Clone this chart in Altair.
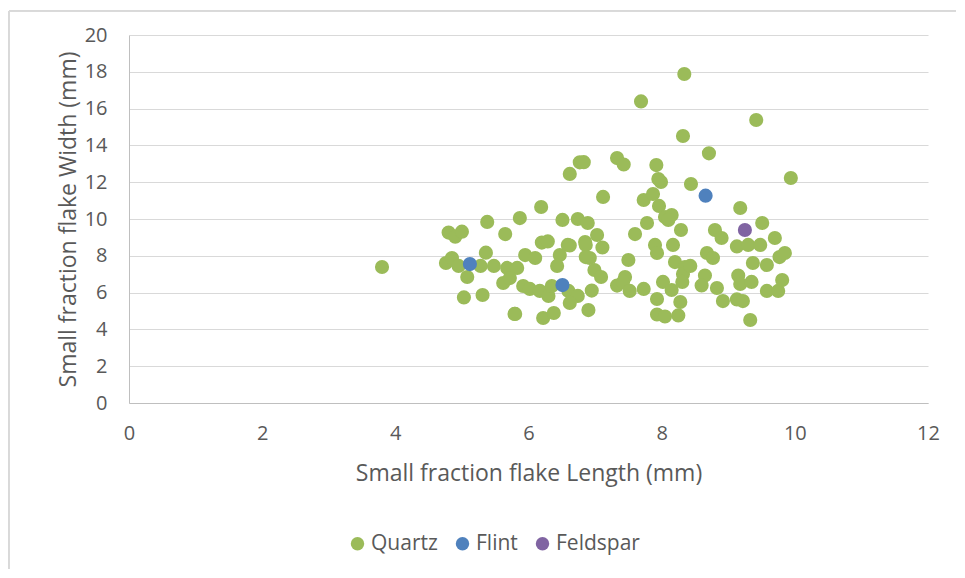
import altair as alt
import pandas as pd

# Values (mm)
quartz_length = [
    3.80, 4.80, 4.90, 5.00, 4.76, 4.85, 4.95, 5.08, 5.03, 5.28, 5.36, 5.38, 5.31, 5.48, 5.65,
    5.79, 5.68, 5.83, 5.62, 5.72, 5.87, 5.95, 6.10, 6.19, 6.20, 6.29, 6.47, 6.59, 6.43, 6.51,
    6.74, 6.89, 6.85, 6.92, 5.92, 6.02, 6.17, 6.30, 6.35, 6.60, 6.74, 6.62, 5.80, 6.22, 6.38,
    6.90, 6.62, 6.77, 6.86, 7.11, 6.86, 6.62, 7.03, 7.12, 7.50, 6.99, 7.09, 7.45, 7.33, 7.42,
    7.52, 7.73, 7.60, 7.78, 7.73, 7.87, 7.96, 7.99, 7.95, 8.05, 8.15, 8.10, 7.90, 7.93, 8.17,
    8.20, 8.35, 8.32, 8.02, 8.15, 8.31, 8.28, 7.93, 6.95, 7.93, 8.05, 8.25, 8.29, 8.44, 7.33,
    7.43, 6.83, 7.92, 7.69, 8.34, 8.32, 8.71, 9.42, 9.94, 9.18, 8.80, 8.90, 9.70, 9.13, 9.30,
    9.48, 8.68, 8.77, 9.37, 9.58, 9.77, 9.85, 8.43, 8.65, 8.60, 8.83, 9.15, 9.18, 9.35, 9.58,
    9.75, 9.81, 8.92, 9.13, 9.22, 9.33, 9.51,
]
quartz_width = [
    7.39, 9.26, 9.04, 9.31, 7.61, 7.88, 7.45, 6.85, 5.74, 7.45, 8.17, 9.84, 5.87, 7.45, 9.18,
    4.84, 7.34, 7.34, 6.52, 6.79, 10.05, 8.04, 7.88, 10.65, 8.72, 8.78, 8.04, 8.59, 7.45, 9.95,
    10.00, 9.78, 8.75, 7.88, 6.36, 6.20, 6.09, 5.82, 6.36, 6.09, 5.82, 5.44, 4.84, 4.62, 4.89,
    5.05, 12.45, 13.08, 8.59, 8.45, 7.93, 8.56, 9.13, 11.20, 7.77, 7.23, 6.85, 6.85, 6.38, 6.58,
    6.09, 6.20, 9.18, 9.78, 11.03, 11.36, 10.71, 12.01, 12.17, 10.11, 10.22, 9.95, 8.59, 8.15,
    8.59, 7.66, 7.39, 7.01, 6.58, 6.14, 6.58, 5.49, 5.65, 6.11, 4.81, 4.70, 4.76, 9.40, 11.90,
    13.31, 12.96, 13.09, 12.93, 16.39, 17.88, 14.51, 13.57, 15.38, 12.23, 10.60, 9.40, 8.97,
    8.97, 8.51, 8.59, 8.59, 8.15, 7.88, 7.61, 7.50, 7.93, 8.15, 7.45, 6.93, 6.39, 6.25, 6.93,
    6.47, 6.58, 6.09, 6.09, 6.68, 5.54, 5.63, 5.54, 4.51, 9.78,
]
flint_length = [5.12, 6.51, 8.66]
flint_width = [7.55, 6.41, 11.27]
feldspar_length = [9.25]
feldspar_width = [9.40]

series_names = ["Quartz", "Flint", "Feldspar"]
series_colors = ["#9BBB59", "#4F81BD", "#8064A2"]

n = min(len(quartz_length), len(quartz_width))
df = pd.concat([
    pd.DataFrame({"length": quartz_length[:n], "width": quartz_width[:n], "stone": "Quartz"}),
    pd.DataFrame({"length": flint_length, "width": flint_width, "stone": "Flint"}),
    pd.DataFrame({"length": feldspar_length, "width": feldspar_width, "stone": "Feldspar"}),
], ignore_index=True)

FONT = "Open Sans"
TXT = "#595959"

points = alt.Chart(df).mark_circle(size=200, opacity=1).encode(
    x=alt.X("length:Q", scale=alt.Scale(domain=[0, 12], nice=False),
            axis=alt.Axis(title="Small fraction flake Length (mm)", values=list(range(0, 13, 2)),
                          grid=False, ticks=False, domainColor="#BFBFBF", labelPadding=20,
                          labelFlush=False, titlePadding=19)),
    y=alt.Y("width:Q", scale=alt.Scale(domain=[0, 20], nice=False),
            axis=alt.Axis(title="Small fraction flake Width (mm)", values=list(range(0, 21, 2)),
                          grid=True, gridColor="#D9D9D9", ticks=False, domainColor="#BFBFBF",
                          labelPadding=22, labelFlush=False, titlePadding=4)),
    color=alt.Color("stone:N", scale=alt.Scale(domain=series_names, range=series_colors),
                    legend=alt.Legend(title=None, orient="none", direction="horizontal",
                                      legendX=218, legendY=498, symbolType="circle",
                                      symbolSize=180, labelFontSize=21, labelColor=TXT,
                                      labelFont=FONT, columnPadding=14, labelOffset=3,
                                      symbolOffset=0)),
    order=alt.Order("stone:N", sort="descending"),
)

frame = alt.Chart(df).mark_rect(fill=None, stroke="#D9D9D9", strokeWidth=1, clip=False).encode(
    x=alt.value(-120), x2=alt.value(829), y=alt.value(-24), y2=alt.value(541)
)

chart = alt.layer(frame, points).properties(
    width=799, height=368,
    autosize=alt.AutoSizeParams(type="none"),
    padding={"left": 121, "top": 27, "right": 28, "bottom": 166},
).configure_view(stroke=None).configure_axis(
    labelFont=FONT, labelFontSize=20, labelColor=TXT,
    titleFont=FONT, titleFontSize=23, titleColor=TXT, titleFontWeight="normal",
)

chart.save("out.html", embed_options={"renderer": "svg", "actions": False})
